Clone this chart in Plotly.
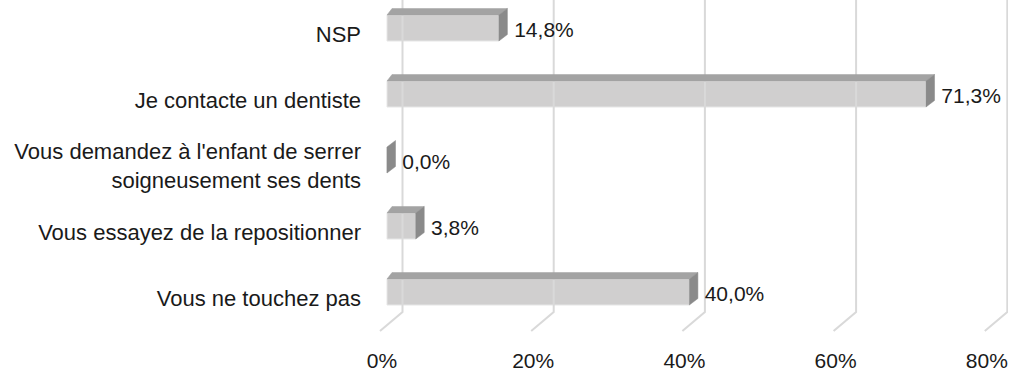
"""Barres horizontales façon 3D (Excel) : réaction face à une dent expulsée."""

import plotly.graph_objects as go

categories = [
    "Vous ne touchez pas",
    "Vous essayez de la repositionner",
    "Vous demandez à l'enfant de serrer<br>soigneusement ses dents",
    "Je contacte un dentiste",
    "NSP",
]
values = [40.0, 3.8, 0.0, 71.3, 14.8]
x_ticks = [0, 20, 40, 60, 80]
x_tick_labels = ["0%", "20%", "40%", "60%", "80%"]

FONT = "Liberation Sans, Arial, sans-serif"
TXT = "#1a1a1a"
FRONT = "#d0cfcf"
TOP = "#a3a3a3"
SIDE = "#8a8a8a"
GRID = "#d9d9d9"

# pixel geometry -> data units
PX_X = 7.56     # px per 1 %
PX_Y = 66.0     # px per category step
half = 13 / PX_Y
dy = 6.5 / PX_Y
dxl = 5 / PX_X
dxr = 8.5 / PX_X
back_dx = 15.5 / PX_X
front_dx = -7 / PX_X
y_top = 4 + 28 / PX_Y
y_back_floor = -(20 / PX_Y)
y_front_floor = -(39 / PX_Y)

fig = go.Figure()

# back-wall gridlines with the floor diagonal
for t in x_ticks:
    fig.add_trace(go.Scatter(
        x=[t + back_dx, t + back_dx, t + front_dx],
        y=[y_top + 1, y_back_floor, y_front_floor],
        mode="lines", line=dict(color=GRID, width=2),
        hoverinfo="skip", showlegend=False,
    ))

# front faces
fig.add_trace(go.Bar(
    x=values, y=list(range(len(values))), orientation="h", width=2 * half,
    marker=dict(color=FRONT, line=dict(color="#e6e6e6", width=1)),
    showlegend=False, hoverinfo="skip",
))

# top and side faces
for i, v in enumerate(values):
    if v > 0:
        fig.add_trace(go.Scatter(
            x=[0, v, v + dxr, dxl, 0],
            y=[i + half, i + half, i + half + dy, i + half + dy, i + half],
            fill="toself", fillcolor=TOP, mode="lines",
            line=dict(color=TOP, width=0.5), hoverinfo="skip", showlegend=False,
        ))
    fig.add_trace(go.Scatter(
        x=[v, v + dxr, v + dxr, v, v],
        y=[i - half, i - half + dy, i + half + dy, i + half, i - half],
        fill="toself", fillcolor=SIDE, mode="lines",
        line=dict(color=SIDE, width=0.5), hoverinfo="skip", showlegend=False,
    ))

# data labels
fig.add_trace(go.Scatter(
    x=[v + dxr + 0.9 for v in values],
    y=[i - 0.06 for i in range(len(values))],
    mode="text",
    text=[f"{v:.1f}".replace(".", ",") + "%" for v in values],
    textposition="middle right",
    textfont=dict(family=FONT, size=21, color=TXT),
    hoverinfo="skip", showlegend=False,
))

fig.update_layout(
    width=1009, height=374,
    margin=dict(l=368, r=1, t=0, b=34, autoexpand=False),
    paper_bgcolor="white", plot_bgcolor="white",
    font=dict(family=FONT, size=22, color=TXT),
    showlegend=False,
)
fig.update_xaxes(
    range=[-(387 - 368) / PX_X, (1008 - 387) / PX_X],
    tickvals=x_ticks, ticktext=x_tick_labels,
    showgrid=False, zeroline=False, showline=False, ticks="",
    ticklabelshift=-5, ticklabelstandoff=6,
    tickfont=dict(size=21),
)
fig.update_yaxes(
    range=[-(340 - 292) / PX_Y, y_top],
    tickvals=list(range(len(categories))), ticktext=categories,
    showgrid=False, zeroline=False, showline=False, ticks="",
    ticklabelshift=6, ticklabelstandoff=6,
)

fig.write_html(
    "out.html",
    config={"displayModeBar": False},
    post_script="document.body.style.margin='0';",
)
